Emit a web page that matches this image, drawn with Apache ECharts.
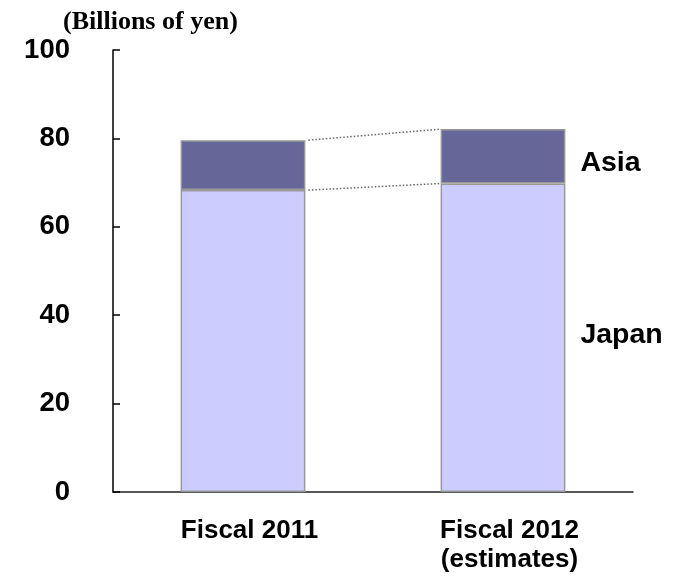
<!DOCTYPE html>
<html><head><meta charset="utf-8">
<script src="https://cdn.jsdelivr.net/npm/echarts@6/dist/echarts.min.js"></script>
<style>html,body{margin:0;padding:0;background:#fff}#c{width:683px;height:578px}</style>
</head><body><div id="c"></div>
<script>
var categories = ['Fiscal 2011', 'Fiscal 2012\n(estimates)'];
var japan = [68.3, 69.8];
var asia = [11.3, 12.3];
var yTicks = [0, 20, 40, 60, 80, 100];
var unitLabel = '(Billions of yen)';

var chart = echarts.init(document.getElementById('c'));
var borderStyle = {borderColor: '#999999', borderWidth: 1.5};
chart.setOption({
  animation: false,
  title: {
    text: unitLabel, left: 58, top: 4,
    textStyle: {fontFamily: 'Liberation Serif', fontWeight: 'bold', fontSize: 26, color: '#000'}
  },
  grid: {left: 113, right: 50, top: 50, bottom: 86},
  xAxis: {
    type: 'category', data: categories, boundaryGap: true,
    axisLine: {lineStyle: {color: '#222', width: 1.5}},
    axisTick: {inside: true, length: 10, lineStyle: {color: '#222', width: 1.5}},
    axisLabel: {
      margin: 24, fontFamily: 'Liberation Sans', fontWeight: 'bold', fontSize: 26,
      lineHeight: 29, color: '#000', padding: [0, 0, 0, 13]
    }
  },
  yAxis: {
    type: 'value', min: yTicks[0], max: yTicks[yTicks.length - 1], interval: 20,
    splitLine: {show: false},
    axisLine: {show: true, lineStyle: {color: '#000', width: 1.5}},
    axisTick: {show: true, inside: true, length: 7, lineStyle: {color: '#000', width: 1.5}},
    axisLabel: {
      margin: 43, fontFamily: 'Liberation Sans', fontWeight: 'bold', fontSize: 27.5, color: '#000'
    }
  },
  series: [
    {name: 'Japan', type: 'bar', stack: 't', data: japan, barWidth: '48%',
      itemStyle: Object.assign({color: '#CCCCFF'}, borderStyle)},
    {name: 'Asia', type: 'bar', stack: 't', data: asia, barWidth: '48%',
      itemStyle: Object.assign({color: '#666699'}, borderStyle)},
    {
      type: 'custom', data: [0], silent: true, z: 5,
      renderItem: function (params, api) {
        var band = api.size([1, 0])[0];
        var half = band * 0.48 / 2;
        var tops1 = [japan[0], japan[0] + asia[0]];
        var tops2 = [japan[1], japan[1] + asia[1]];
        var children = [];
        for (var k = 0; k < 2; k++) {
          var p1 = api.coord([0, tops1[k]]);
          var p2 = api.coord([1, tops2[k]]);
          children.push({
            type: 'line',
            shape: {x1: p1[0] + half + 3, y1: p1[1], x2: p2[0] - half, y2: p2[1]},
            style: {stroke: '#666', lineWidth: 1.5, lineDash: [1.5, 2]}
          });
        }
        var asiaMid = api.coord([1, japan[1] + asia[1] / 2 - 1.6]);
        var japanMid = api.coord([1, japan[1] / 2 + 0.5]);
        children.push({type: 'text', style: {text: 'Asia', x: asiaMid[0] + half + 15, y: asiaMid[1],
          verticalAlign: 'middle', font: 'bold 28.5px "Liberation Sans"', fill: '#000'}});
        children.push({type: 'text', style: {text: 'Japan', x: japanMid[0] + half + 15, y: japanMid[1],
          verticalAlign: 'middle', font: 'bold 28.5px "Liberation Sans"', fill: '#000'}});
        return {type: 'group', children: children};
      }
    }
  ]
});
</script>
</body></html>
